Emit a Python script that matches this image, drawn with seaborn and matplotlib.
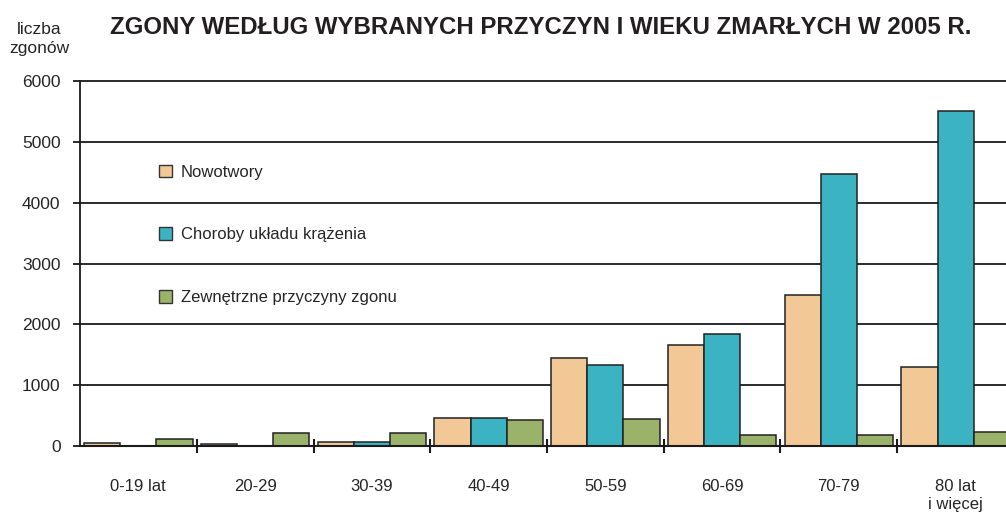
import numpy as np
import pandas as pd
import matplotlib
matplotlib.use("Agg")
import matplotlib.pyplot as plt
import seaborn as sns
from matplotlib.patches import Patch

# Data
age_groups = ["0-19 lat", "20-29", "30-39", "40-49", "50-59", "60-69", "70-79", "80 lat\ni więcej"]
causes = ["Nowotwory", "Choroby układu krążenia", "Zewnętrzne przyczyny zgonu"]
nowotwory = [45, 40, 72, 467, 1445, 1660, 2490, 1300]
krazenie = [0, 0, 72, 467, 1330, 1840, 4465, 5510]
zewnetrzne = [110, 220, 220, 435, 440, 188, 188, 225]
colors = ["#F2C897", "#3BB3C3", "#9BB26A"]

df = pd.DataFrame({
    "wiek": age_groups * 3,
    "przyczyna": [causes[0]] * 8 + [causes[1]] * 8 + [causes[2]] * 8,
    "zgony": nowotwory + krazenie + zewnetrzne,
})

sns.set_style("white")
plt.rcParams["font.family"] = ["Liberation Sans", "DejaVu Sans"]

fig = plt.figure(figsize=(10.06, 5.12), dpi=100)
ax = fig.add_axes([80 / 1006, 66 / 512, 934 / 1006, 365 / 512])

# gridlines under the bars
for v in range(1000, 7000, 1000):
    ax.axhline(v, color="#1a1a1a", lw=1.3, zorder=0, clip_on=False)

sns.barplot(data=df, x="wiek", y="zgony", hue="przyczyna", palette=colors,
            saturation=1, width=0.93, edgecolor="#222222", linewidth=1.1, ax=ax,
            legend=False, zorder=2)

ax.set_xlim(-0.5, 7.5)
ax.set_ylim(0, 6000)
ax.set_yticks(range(0, 7000, 1000))
ax.set_yticklabels([str(v) for v in range(0, 7000, 1000)], fontsize=12.5)
ax.tick_params(axis="y", length=5, width=1.3, color="#1a1a1a", pad=9, left=True)
ax.tick_params(axis="x", length=0, labelsize=12, pad=24)
ax.set_xticks(np.arange(0.5, 7.5, 1), minor=True)
ax.tick_params(axis="x", which="minor", length=10, width=1.5, direction="inout",
               color="#1a1a1a", bottom=True)
ax.set_xlabel("")
ax.set_ylabel("")
for s in ["top", "right"]:
    ax.spines[s].set_visible(False)
ax.spines["left"].set_color("#1a1a1a")
ax.spines["left"].set_linewidth(1.3)
ax.spines["bottom"].set_color("#1a1a1a")
ax.spines["bottom"].set_linewidth(1.5)

handles = [Patch(facecolor=c, edgecolor="#333333", linewidth=1) for c in colors]
ax.legend(handles, causes, loc="upper left", bbox_to_anchor=(0.068, 0.812),
          frameon=False, fontsize=12, labelspacing=2.85, handlelength=0.8,
          handleheight=0.8, handletextpad=0.55)

fig.text(0.538, 0.947, "ZGONY WEDŁUG WYBRANYCH PRZYCZYN I WIEKU ZMARŁYCH W 2005 R.",
         ha="center", va="center", fontsize=17.3, fontweight="bold", color="#231f20")
fig.text(39 / 1006, 1 - 39 / 512, "liczba\nzgonów", ha="center", va="center",
         fontsize=12.5, linespacing=1.3)

fig.savefig("out.png", dpi=100)
